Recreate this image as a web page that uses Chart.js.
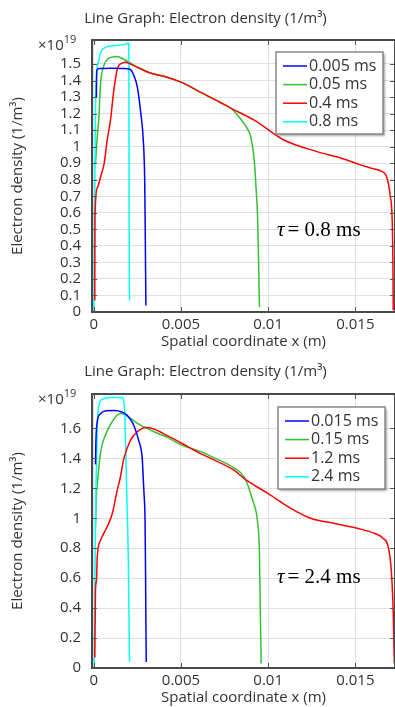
<!DOCTYPE html>
<html>
<head>
<meta charset="utf-8">
<script src="https://cdn.jsdelivr.net/npm/chart.js@4.4.1/dist/chart.umd.min.js"></script>
<style>
    body { margin: 0; background: #fff; }
    .wrap { position: relative; width: 395px; height: 707px; overflow: hidden; }
    canvas { position: absolute; left: 0; }
</style>
</head>
<body>
<div class="wrap">
    <canvas id="graph-a" width="395" height="354" style="top:0"></canvas>
    <canvas id="graph-b" width="395" height="353" style="top:354px"></canvas>
</div>
<script>
// tick labels (density in units of 1e19 1/m^3, x in m)
const xTicks = [0, 0.005, 0.01, 0.015];
const yTicksA = [0, 0.1, 0.2, 0.3, 0.4, 0.5, 0.6, 0.7, 0.8, 0.9, 1, 1.1, 1.2, 1.3, 1.4, 1.5];
const yTicksB = [0, 0.2, 0.4, 0.6, 0.8, 1, 1.2, 1.4, 1.6];

const timesA = ['0.005 ms', '0.05 ms', '0.4 ms', '0.8 ms'];
const timesB = ['0.015 ms', '0.15 ms', '1.2 ms', '2.4 ms'];
const colores = ['#0000ff', '#33c133', '#ff0000', '#00ffff'];

// tau = 0.8 ms
const blueA = [[0.00015, 1.30], [0.00017, 1.46], [0.0003, 1.472], [0.001, 1.474], [0.0017, 1.473], [0.00207, 1.468],
    [0.0023, 1.43], [0.0025, 1.36], [0.0027, 1.2], [0.00284, 1.04], [0.00292, 0.8], [0.00295, 0.51], [0.00299, 0.04]];
const greenA = [[0.0001, 0.9], [0.0002, 1.06], [0.00029, 1.17], [0.00039, 1.38], [0.00058, 1.49], [0.0008, 1.53],
    [0.001, 1.54], [0.00134, 1.545], [0.0017, 1.53], [0.0021, 1.505], [0.0025, 1.48], [0.0032, 1.447], [0.0042, 1.42],
    [0.005, 1.39], [0.0061, 1.33], [0.0072, 1.27], [0.0079, 1.23], [0.0084, 1.17], [0.0088, 1.11], [0.009, 1.06],
    [0.0092, 0.92], [0.0093, 0.76], [0.0094, 0.55], [0.00945, 0.3], [0.0095, 0.03]];
const redA = [[0.00006, 0.07], [0.00007, 0.57], [0.0002, 0.75], [0.0004, 0.82], [0.0006, 0.9], [0.00077, 1.04],
    [0.00096, 1.16], [0.00115, 1.34], [0.00138, 1.48], [0.00163, 1.505], [0.0018, 1.51], [0.0023, 1.49], [0.0032, 1.447],
    [0.0042, 1.42], [0.005, 1.39], [0.0061, 1.33], [0.0072, 1.27], [0.0079, 1.23], [0.0092, 1.16], [0.0109, 1.04],
    [0.0128, 0.97], [0.0142, 0.93], [0.0153, 0.89], [0.0159, 0.87], [0.0165, 0.85], [0.0168, 0.815], [0.017, 0.70],
    [0.01711, 0.55], [0.01715, 0.3], [0.01717, 0.01]];
const cyanA = [[0.00001, 0.0], [0.00005, 0.6], [0.00009, 1.15], [0.00014, 1.40], [0.00029, 1.52], [0.0004, 1.57],
    [0.00067, 1.60], [0.00115, 1.61], [0.0017, 1.617], [0.00201, 1.625], [0.00202, 1.1], [0.00203, 0.5], [0.00205, 0.07]];

// tau = 2.4 ms
const blueB = [[0.0001, 1.36], [0.00012, 1.5], [0.0002, 1.645], [0.0004, 1.70], [0.0007, 1.718], [0.0012, 1.72],
    [0.0016, 1.71], [0.0019, 1.69], [0.0021, 1.66], [0.0023, 1.62], [0.0026, 1.51], [0.00278, 1.40], [0.00284, 1.26],
    [0.00288, 1.17], [0.00294, 0.99], [0.00297, 0.65], [0.00299, 0.3], [0.00301, 0.04]];
const greenB = [[0.0001, 0.94], [0.00015, 1.15], [0.0002, 1.22], [0.00039, 1.44], [0.00067, 1.556], [0.00106, 1.645],
    [0.00135, 1.69], [0.00154, 1.70], [0.00182, 1.69], [0.00211, 1.667], [0.0025, 1.634], [0.00288, 1.61],
    [0.00345, 1.578], [0.00422, 1.54], [0.005, 1.49], [0.00615, 1.445], [0.0067, 1.415], [0.00806, 1.335],
    [0.00863, 1.275], [0.00911, 1.12], [0.0094, 0.965], [0.0095, 0.765], [0.00955, 0.364], [0.0096, 0.03]];
const redB = [[0.00006, 0.07], [0.0001, 0.52], [0.00016, 0.59], [0.0002, 0.74], [0.00039, 0.853], [0.00077, 0.943],
    [0.00106, 1.03], [0.00135, 1.19], [0.0015, 1.26], [0.00173, 1.40], [0.00211, 1.522], [0.0025, 1.578],
    [0.00297, 1.607], [0.00336, 1.60], [0.00422, 1.552], [0.00537, 1.48], [0.00615, 1.43], [0.0067, 1.40],
    [0.00806, 1.32], [0.00863, 1.265], [0.00998, 1.166], [0.01132, 1.065], [0.01247, 0.999], [0.01381, 0.965],
    [0.01515, 0.932], [0.01611, 0.898], [0.0166, 0.865], [0.01688, 0.809], [0.01707, 0.631], [0.01717, 0.364],
    [0.01723, 0.03]];
const cyanB = [[0.00003, 0.0], [0.00007, 0.6], [0.0001, 1.0], [0.00013, 1.22], [0.0002, 1.6], [0.00029, 1.756],
    [0.00058, 1.80], [0.001, 1.807], [0.0016, 1.807], [0.00169, 1.80], [0.00179, 1.667], [0.00188, 1.22],
    [0.00198, 0.74], [0.00205, 0.04]];

const titulo = 'Line Graph: Electron density (1/m\u00b3)';

Chart.defaults.font.family = '"Open Sans", sans-serif';
Chart.defaults.color = '#333';

// titulo, borde, marcas interiores, x10^19, leyenda y etiqueta tau
const decor = {
    id: 'decor',
    afterDatasetsDraw(chart, args, o) {
        const { ctx, chartArea: a, scales } = chart;
        ctx.save();
        ctx.strokeStyle = '#555';
        ctx.lineWidth = 1;
        ctx.beginPath();
        scales.x.ticks.forEach(t => {
            const px = Math.round(scales.x.getPixelForValue(t.value)) + 0.5;
            ctx.moveTo(px, a.bottom); ctx.lineTo(px, a.bottom - 5);
            ctx.moveTo(px, a.top); ctx.lineTo(px, a.top + 5);
        });
        scales.y.ticks.forEach(t => {
            const py = Math.round(scales.y.getPixelForValue(t.value)) + 0.5;
            ctx.moveTo(a.left, py); ctx.lineTo(a.left + 5, py);
            ctx.moveTo(a.right, py); ctx.lineTo(a.right - 5, py);
        });
        ctx.stroke();

        ctx.lineWidth = 2;
        ctx.strokeStyle = '#4a4a4a';
        ctx.strokeRect(a.left, a.top, a.right - a.left, a.bottom - a.top);

        // titulo
        ctx.fillStyle = '#333';
        ctx.textBaseline = 'middle';
        ctx.textAlign = 'center';
        ctx.font = '15px "Open Sans"';
        ctx.fillText(titulo, 205.5, o.titleY);

        // x10^19
        ctx.textAlign = 'left';
        ctx.fillText('\u00d710', 38, a.top + 6);
        const w10 = ctx.measureText('\u00d710').width;
        ctx.font = '11px "Open Sans"';
        ctx.fillText('19', 38 + w10, a.top);

        // leyenda
        const lx = a.left + o.legendX, ly = a.top + o.legendY;
        ctx.save();
        ctx.shadowColor = 'rgba(0,0,0,0.35)';
        ctx.shadowOffsetX = 2;
        ctx.shadowOffsetY = 2;
        ctx.shadowBlur = 2;
        ctx.fillStyle = '#fff';
        ctx.fillRect(lx, ly, 107, 82);
        ctx.restore();
        ctx.strokeStyle = '#888';
        ctx.lineWidth = 1.5;
        ctx.strokeRect(lx, ly, 107, 82);
        ctx.font = '16px "Open Sans"';
        chart.data.datasets.forEach((ds, i) => {
            const ry = ly + 14 + i * 18.6;
            ctx.strokeStyle = ds.borderColor;
            ctx.lineWidth = 1.5;
            ctx.beginPath();
            ctx.moveTo(lx + 7, ry); ctx.lineTo(lx + 31, ry);
            ctx.stroke();
            ctx.fillStyle = '#333';
            ctx.fillText(ds.label, lx + 33, ry);
        });

        // tau
        ctx.fillStyle = '#000';
        ctx.font = 'italic 21px "Liberation Serif"';
        ctx.fillText('\u03c4', o.tauX, o.tauY);
        const wt = ctx.measureText('\u03c4').width;
        ctx.font = '21px "Liberation Serif"';
        ctx.fillText('= ' + o.tau, o.tauX + wt + 3, o.tauY);
        ctx.restore();
    }
};

function dibujar(id, series, labels, yTicks, yMax, alto, tituloPad, extra) {
    new Chart(document.getElementById(id), {
        type: 'line',
        data: {
            datasets: series.map((s, i) => ({
                label: labels[i],
                data: s.map(p => ({ x: p[0], y: p[1] })),
                borderColor: colores[i],
                borderWidth: 1.5,
                pointRadius: 0,
                cubicInterpolationMode: 'monotone',
                order: i === 1 ? 1 : 0,
                fill: false
            }))
        },
        options: {
            responsive: false,
            animation: false,
            devicePixelRatio: 1,
            layout: { padding: { top: 40, left: 0, right: 0, bottom: 0 } },
            plugins: {
                legend: { display: false },
                tooltip: { enabled: false },
                title: { display: false },
                decor: extra
            },
            scales: {
                x: {
                    type: 'linear',
                    min: -0.0001,
                    max: 0.01727,
                    afterBuildTicks: s => { s.ticks = xTicks.map(v => ({ value: v })); },
                    afterFit: s => { s.height = alto; },
                    grid: { color: '#e0e0e0', drawTicks: false },
                    border: { display: false },
                    ticks: { font: { size: 15 }, padding: 4, maxRotation: 0, autoSkip: false, callback: v => String(v) },
                    title: {
                        display: true,
                        text: 'Spatial coordinate x (m)',
                        font: { size: 15 },
                        padding: { top: 0, bottom: tituloPad }
                    }
                },
                y: {
                    min: 0,
                    max: yMax,
                    afterBuildTicks: s => { s.ticks = yTicks.map(v => ({ value: v })); },
                    afterFit: s => { s.width = 92; },
                    grid: { color: '#e0e0e0', drawTicks: false },
                    border: { display: false },
                    ticks: { font: { size: 15 }, padding: 11, autoSkip: false, callback: v => String(v) },
                    title: {
                        display: true,
                        text: 'Electron density (1/m\u00b3)',
                        font: { size: 15 },
                        padding: { top: 9, bottom: 0 }
                    }
                }
            }
        },
        plugins: [decor]
    });
}

dibujar('graph-a', [blueA, greenA, redA, cyanA], timesA, yTicksA, 1.645, 42, 3,
    { titleY: 18.5, legendX: 184, legendY: 12, tau: '0.8 ms', tauX: 277, tauY: 230 });
dibujar('graph-b', [blueB, greenB, redB, cyanB], timesB, yTicksB, 1.83, 39, 0,
    { titleY: 18, legendX: 186, legendY: 13, tau: '2.4 ms', tauX: 277, tauY: 223 });
</script>
</body>
</html>
